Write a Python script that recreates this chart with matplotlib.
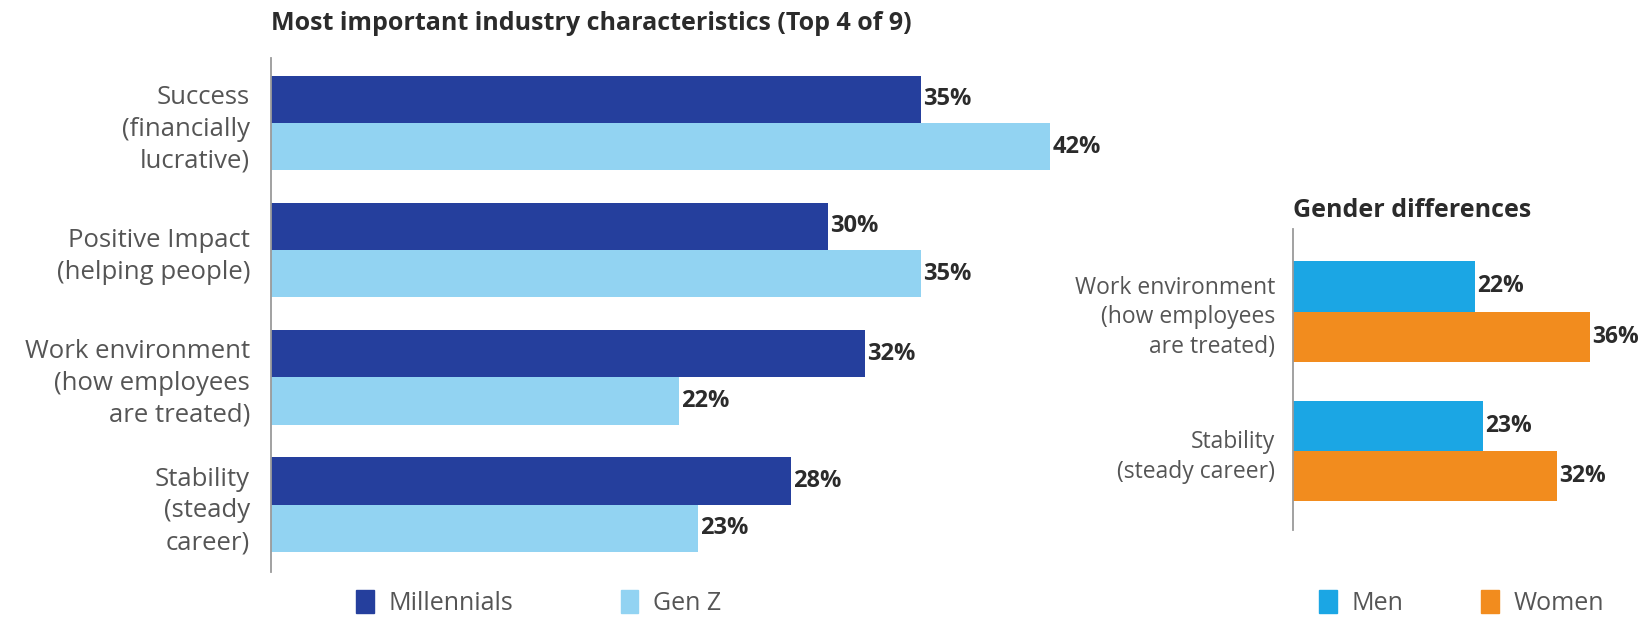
import numpy as np
import matplotlib
matplotlib.use("Agg")
import matplotlib.pyplot as plt
from matplotlib.patches import Patch

plt.rcParams['font.family'] = ['Open Sans', 'DejaVu Sans']

# data: left panel
categories = ["Success\n(financially\nlucrative)",
              "Positive Impact\n(helping people)",
              "Work environment\n(how employees\nare treated)",
              "Stability\n(steady\ncareer)"]
millennials = [35, 30, 32, 28]
gen_z = [42, 35, 22, 23]

# data: right panel
gender_categories = ["Work environment\n(how employees\nare treated)",
                     "Stability\n(steady career)"]
men = [22, 23]
women = [36, 32]

c_mill = "#253f9d"
c_genz = "#92d3f2"
c_men = "#1ba6e4"
c_women = "#f28c1e"
label_col = "#555555"
value_col = "#2b2b2b"

fig = plt.figure(figsize=(16.45, 6.22), dpi=100)

# left panel
ax1 = fig.add_axes([0.1647, 0.0804, 0.5077, 0.8264])
y = np.arange(len(categories))
h = 0.372
ax1.barh(y - h / 2, millennials, height=h, color=c_mill)
ax1.barh(y + h / 2, gen_z, height=h, color=c_genz)
for i in range(len(categories)):
    ax1.text(millennials[i] + 0.12, y[i] - h / 2, f"{millennials[i]}%", va="center", ha="left",
             fontsize=17, fontweight="bold", color=value_col)
    ax1.text(gen_z[i] + 0.12, y[i] + h / 2, f"{gen_z[i]}%", va="center", ha="left",
             fontsize=17, fontweight="bold", color=value_col)
ax1.set_xlim(0, 45)
ax1.set_ylim(3.53, -0.51)
ax1.set_yticks(y)
ax1.set_yticklabels(categories, fontsize=18.5, color=label_col, linespacing=1.35)
ax1.tick_params(axis="y", length=0, pad=15)
ax1.set_xticks([])
for s in ["top", "right", "bottom"]:
    ax1.spines[s].set_visible(False)
ax1.spines["left"].set_color("#9a9a9a")
ax1.spines["left"].set_linewidth(1.3)

# right panel
ax2 = fig.add_axes([0.7863, 0.1482, 0.2006, 0.4841])
y2 = np.arange(len(gender_categories))
h2 = 0.36
ax2.barh(y2 - h2 / 2, men, height=h2, color=c_men)
ax2.barh(y2 + h2 / 2, women, height=h2, color=c_women)
for i in range(len(gender_categories)):
    ax2.text(men[i] + 0.25, y2[i] - h2 / 2, f"{men[i]}%", va="center", ha="left",
             fontsize=16.5, fontweight="bold", color=value_col)
    ax2.text(women[i] + 0.25, y2[i] + h2 / 2, f"{women[i]}%", va="center", ha="left",
             fontsize=16.5, fontweight="bold", color=value_col)
ax2.set_xlim(0, 40)
ax2.set_ylim(1.564, -0.594)
ax2.set_yticks(y2)
ax2.set_yticklabels(gender_categories, fontsize=16.5, color=label_col, linespacing=1.3)
ax2.tick_params(axis="y", length=0, pad=13)
ax2.set_xticks([])
for s in ["top", "right", "bottom"]:
    ax2.spines[s].set_visible(False)
ax2.spines["left"].set_color("#9a9a9a")
ax2.spines["left"].set_linewidth(1.3)

# titles
fig.text(0.1647, 0.963, "Most important industry characteristics (Top 4 of 9)",
         fontsize=18, fontweight="bold", color="#2b2b2b", ha="left", va="center")
fig.text(0.7863, 0.662, "Gender differences",
         fontsize=18, fontweight="bold", color="#2b2b2b", ha="left", va="center")

# legends
fig.legend(handles=[Patch(color=c_mill, label="Millennials"), Patch(color=c_genz, label="Gen Z")],
           loc="center left", bbox_to_anchor=(0.2165, 0.03), ncol=2, frameon=False,
           fontsize=18, handlelength=0.7, handleheight=1.0, handletextpad=0.6,
           columnspacing=4.3, borderaxespad=0, borderpad=0, labelcolor=label_col)
fig.legend(handles=[Patch(color=c_men, label="Men"), Patch(color=c_women, label="Women")],
           loc="center left", bbox_to_anchor=(0.802, 0.03), ncol=2, frameon=False,
           fontsize=18, handlelength=0.7, handleheight=1.0, handletextpad=0.6,
           columnspacing=3.1, borderaxespad=0, borderpad=0, labelcolor=label_col)

fig.savefig("out.png", dpi=100, facecolor="white")
